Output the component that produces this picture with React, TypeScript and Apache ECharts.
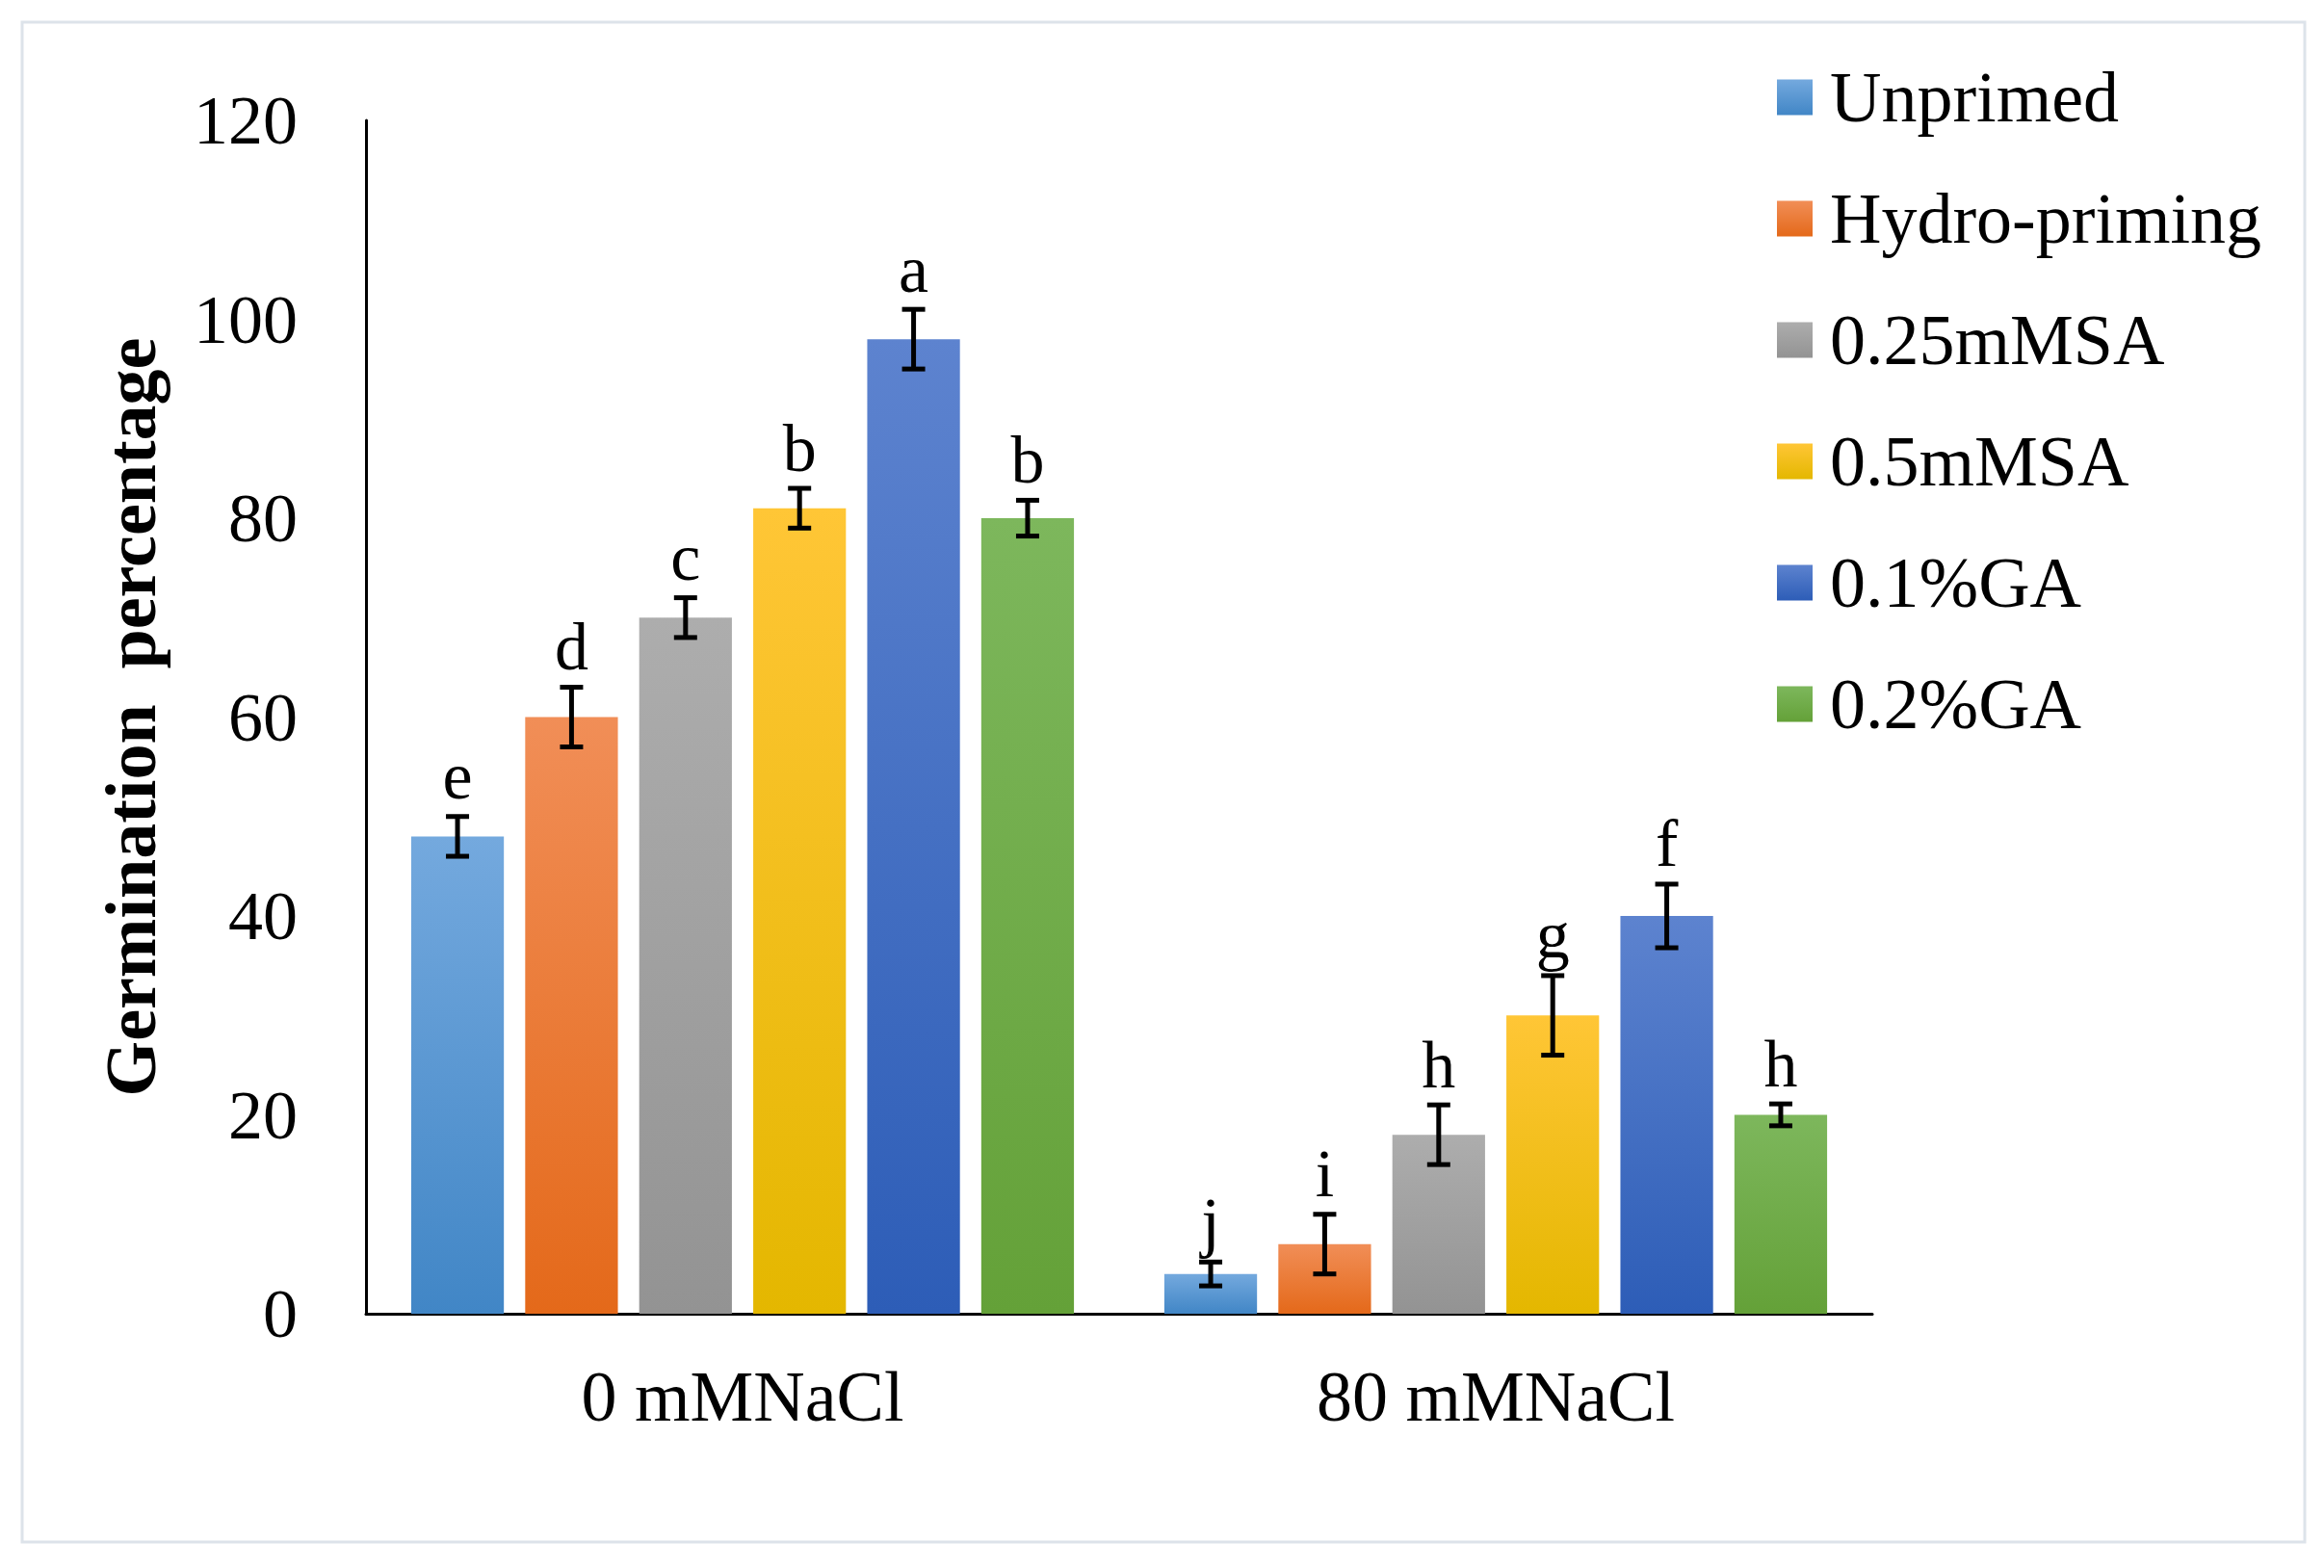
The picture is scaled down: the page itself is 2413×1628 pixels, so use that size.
import React, { useEffect, useRef } from "react";
import * as echarts from "echarts";

const categories = ["0 mMNaCl", "80 mMNaCl"];
const treatments = ["Unprimed", "Hydro-priming", "0.25mMSA", "0.5mMSA", "0.1%GA", "0.2%GA"];

const unprimed = [48, 4];
const hydroPriming = [60, 7];
const sa025 = [70, 18];
const sa05 = [81, 30];
const ga01 = [98, 40];
const ga02 = [80, 20];

const unprimedErr = [2, 1.2];
const hydroPrimingErr = [3, 3];
const sa025Err = [2, 3];
const sa05Err = [2, 4];
const ga01Err = [3, 3.2];
const ga02Err = [1.8, 1.1];

const unprimedLetters = ["e", "j"];
const hydroPrimingLetters = ["d", "i"];
const sa025Letters = ["c", "h"];
const sa05Letters = ["b", "g"];
const ga01Letters = ["a", "f"];
const ga02Letters = ["b", "h"];

const yTicks = { min: 0, max: 120, interval: 20 };

const values = [unprimed, hydroPriming, sa025, sa05, ga01, ga02];
const errors = [unprimedErr, hydroPrimingErr, sa025Err, sa05Err, ga01Err, ga02Err];
const letters = [unprimedLetters, hydroPrimingLetters, sa025Letters, sa05Letters, ga01Letters, ga02Letters];

const gradients: [string, string][] = [
  ["#74A9DE", "#4186C6"],
  ["#F18E57", "#E4691A"],
  ["#ADADAD", "#939393"],
  ["#FFC636", "#E4B700"],
  ["#5D83CF", "#2D5DB7"],
  ["#7DB75C", "#64A138"],
];

const FONT = "'Liberation Serif', 'Times New Roman', serif";
const CAT_GAP = 0.12;
const BAR_GAP = 0.23;

export default function App() {
  const ref = useRef<HTMLDivElement>(null);

  useEffect(() => {
    if (!ref.current) return;
    const chart = echarts.init(ref.current, undefined, { renderer: "svg" });

    const barSeries = treatments.map((name, i) => ({
      name,
      type: "bar",
      data: values[i],
      barCategoryGap: CAT_GAP * 100 + "%",
      barGap: BAR_GAP * 100 + "%",
      itemStyle: {
        color: new echarts.graphic.LinearGradient(0, 0, 0, 1, [
          { offset: 0, color: gradients[i][0] },
          { offset: 1, color: gradients[i][1] },
        ]),
      },
      z: 2,
    }));

    const errData: number[][] = [];
    treatments.forEach((_, s) => {
      categories.forEach((__, c) => {
        errData.push([c, s, values[s][c], errors[s][c]]);
      });
    });

    const n = treatments.length;
    const errSeries = {
      type: "custom",
      name: "err",
      data: errData,
      encode: { x: 0, y: 2 },
      z: 10,
      renderItem: (params: any, api: any) => {
        const c = api.value(0);
        const s = api.value(1);
        const v = api.value(2);
        const e = api.value(3);
        const band = api.size([1, 0])[0];
        const bw = (band * (1 - CAT_GAP)) / (n + (n - 1) * BAR_GAP);
        const groupW = n * bw + (n - 1) * bw * BAR_GAP;
        const center = api.coord([c, 0])[0];
        const x = center - groupW / 2 + s * bw * (1 + BAR_GAP) + bw / 2;
        const yTop = api.coord([c, v + e])[1];
        const yBot = api.coord([c, v - e])[1];
        const cap = 12;
        const st = { stroke: "#000", lineWidth: 5 };
        return {
          type: "group",
          children: [
            { type: "line", shape: { x1: x, y1: yTop, x2: x, y2: yBot }, style: st },
            { type: "line", shape: { x1: x - cap, y1: yTop, x2: x + cap, y2: yTop }, style: st },
            { type: "line", shape: { x1: x - cap, y1: yBot, x2: x + cap, y2: yBot }, style: st },
            {
              type: "text",
              style: {
                text: letters[s][c],
                x,
                y: yTop - 7,
                textAlign: "center",
                textVerticalAlign: "bottom",
                fontSize: 70,
                fontFamily: FONT,
                fill: "#000",
              },
            },
          ],
        };
      },
    };

    chart.setOption({
      animation: false,
      backgroundColor: "#fff",
      graphic: [
        {
          type: "rect",
          shape: { x: 23, y: 23, width: 2370, height: 1578 },
          style: { fill: "none", stroke: "#dde3ea", lineWidth: 3 },
          z: -1,
        },
      ],
      grid: { left: 380, right: 469, top: 125, bottom: 264, containLabel: false },
      legend: {
        data: treatments,
        orient: "vertical",
        left: 1840,
        top: 59,
        itemWidth: 37,
        itemHeight: 37,
        itemGap: 52,
        icon: "rect",
        textStyle: {
          fontSize: 74,
          lineHeight: 74,
          fontFamily: FONT,
          color: "#000",
          padding: [0, 0, 0, 13],
        },
      },
      xAxis: {
        type: "category",
        data: categories,
        axisLine: { lineStyle: { color: "#000", width: 3 } },
        axisTick: { show: false },
        axisLabel: { fontSize: 74, fontFamily: FONT, color: "#000", margin: 49 },
      },
      yAxis: {
        type: "value",
        min: yTicks.min,
        max: yTicks.max,
        interval: yTicks.interval,
        name: "Germination  percentage",
        nameLocation: "middle",
        nameGap: 207,
        nameTextStyle: { fontSize: 74, fontWeight: "bold", fontFamily: FONT, color: "#000" },
        axisLine: { show: true, lineStyle: { color: "#000", width: 3 } },
        axisTick: { show: false },
        splitLine: { show: false },
        axisLabel: { fontSize: 72, fontFamily: FONT, color: "#000", margin: 71 },
      },
      series: [...barSeries, errSeries],
    });

    return () => chart.dispose();
  }, []);

  return (
    <div
      ref={ref}
      style={{ position: "fixed", left: 0, top: 0, width: 2413, height: 1628 }}
    />
  );
}
